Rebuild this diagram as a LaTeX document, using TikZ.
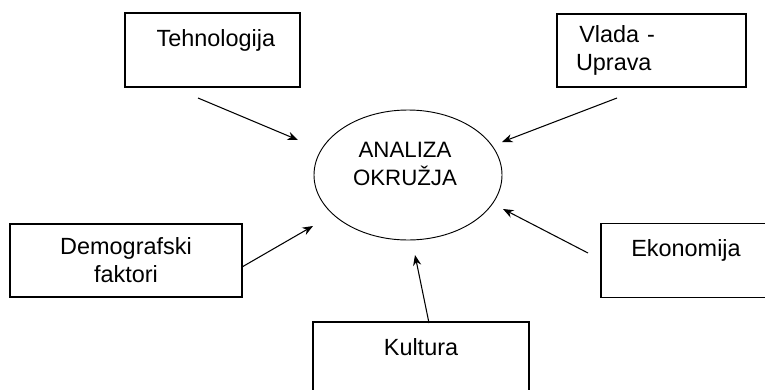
\documentclass[tikz,border=0pt]{standalone}
\usepackage{fontspec}
\setmainfont{Liberation Sans}
\usetikzlibrary{shapes.geometric,arrows.meta}

\tikzset{
	box/.style={draw, line width=1.2pt, inner sep=0pt, font=\fontsize{20}{24}\selectfont},
	oneline/.style={text height=0.99cm, text depth=1.23cm},
	twoline/.style={minimum height=2.19cm, align=center},
	link/.style={line width=0.9pt, -{Stealth[length=9pt,width=7pt]}},
}

\begin{document}
\begin{tikzpicture}[x=0.03cm, y=-0.03cm]
	\clip (0,0) rectangle (765,389);
	% centre
	\node[ellipse, draw, line width=0.8pt, minimum width=5.64cm, minimum height=3.9cm] (env) at (408,175) {};
	\node[font=\fontsize{19}{24}\selectfont, align=center, inner sep=0pt] (envtxt) at (405,164) {ANALIZA\\OKRUŽJA};
	% boxes
	\node[box, oneline, minimum width=5.25cm] (tech) at (212.5,50) {\hspace{0.2cm}Tehnologija};
	\node[box, twoline, minimum width=5.67cm, text width=4.53cm, inner xsep=0.57cm, align=left] (gov) at (651.5,50.5) {\hspace{0.1cm}Vlada -\\Uprava};
	\node[box, twoline, minimum width=6.96cm] (demo) at (126,260.5) {Demografski\\faktori};
	\node[box, oneline, minimum width=6.48cm] (cult) at (421,359) {Kultura};
	\node[box, oneline, minimum width=5.1cm] (econ) at (686,260.5) {Ekonomija};
	% arrow ends
	\coordinate (tech-a) at (198,98);  \coordinate (tech-b) at (298,140);
	\coordinate (gov-a) at (617,98);   \coordinate (gov-b) at (502,142);
	\coordinate (demo-a) at (242,267); \coordinate (demo-b) at (313,226);
	\coordinate (cult-a) at (429,323); \coordinate (cult-b) at (415,255);
	\coordinate (econ-a) at (588,253); \coordinate (econ-b) at (503,209);
	\draw[link] (tech-a) -- (tech-b);
	\draw[link] (gov-a) -- (gov-b);
	\draw[link] (demo-a) -- (demo-b);
	\draw[link] (cult-a) -- (cult-b);
	\draw[link] (econ-a) -- (econ-b);
\end{tikzpicture}
\end{document}
